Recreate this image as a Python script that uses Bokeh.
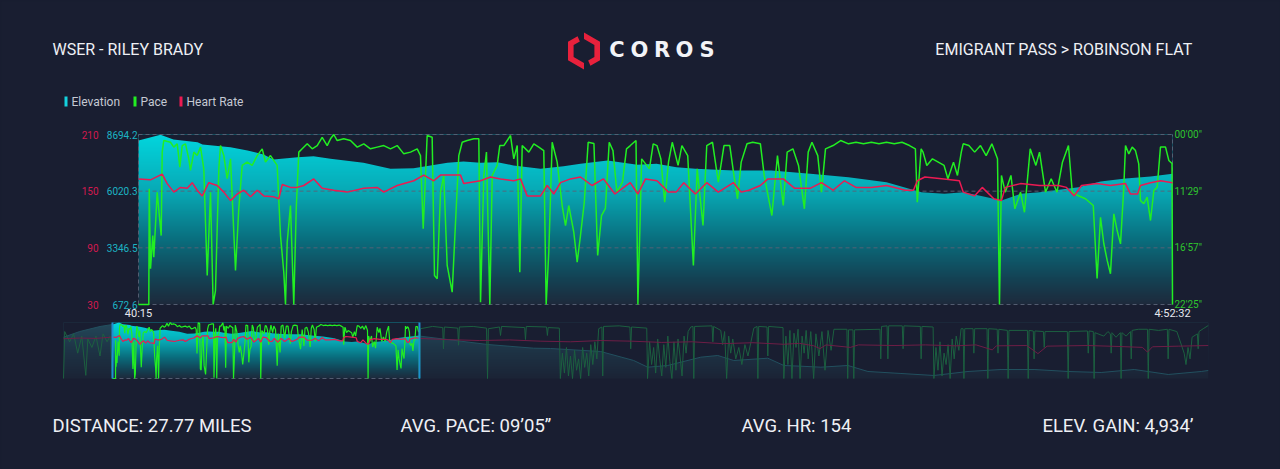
import math
import numpy as np
from bokeh.plotting import figure
from bokeh.models import Range1d
from bokeh.core.properties import value
from bokeh.embed import file_html
from bokeh.resources import INLINE

W, H = 1280, 469
PAD = 1                                    # border kept around the drawing frame
BG = "#191e31"
CYAN = "#14d2de"
GREEN = "#22ee22"
RED = "#ec1a52"
FONT = "Roboto"

# ---------------- Emigrant Pass > Robinson Flat (elapsed seconds) ----------------
T_START, T_END = 2415, 17552
ELEV_MIN, ELEV_MAX = 672.6, 8694.2
HR_MIN, HR_MAX = 30, 210
PACE_TOP, PACE_BOTTOM = 361, 1345          # seconds per mile

elev_t = [2415, 2737, 2927, 3279, 3352, 3762, 4011, 4245, 4391, 4743, 4977, 5226, 5709,
          6104, 6441, 6690, 6938, 7173, 7422, 7670, 7905, 8300, 8637, 8885, 9281, 9720,
          9998, 10291, 10569, 11125, 11681, 12252, 12809, 13365, 13877, 14214, 14492,
          14770, 15048, 15327, 15605, 16176, 16498, 16864, 17230, 17552]
elev_ft = [8411, 8680, 8458, 8331, 8222, 8095, 7939, 7751, 7515, 7623, 7670, 7548, 7359,
           7076, 7104, 7232, 7359, 7420, 7359, 7387, 7232, 7076, 7199, 7312, 7468, 7265,
           7312, 7151, 7076, 6996, 6996, 6840, 6680, 6444, 5972, 5896, 5972,
           5783, 5580, 5896, 5972, 6208, 6477, 6618, 6713, 6840]

hr_t = [2415, 2591, 2762, 2835, 2932, 3030, 3128, 3201, 3274, 3348, 3444, 3567, 3664, 3762,
        3860, 3957, 4055, 4153, 4249, 4396, 4469, 4519, 4640, 4738, 4835, 4981, 5104, 5274,
        5470, 5713, 5909, 6006, 6202, 6445, 6592, 6738, 6836, 7129, 7177, 7422, 7568, 7714,
        7909, 8007, 8105, 8300, 8398, 8495, 8593, 8739, 8885, 9054, 9222, 9389, 9614, 9726,
        9837, 10005, 10174, 10286, 10398, 10566, 10734, 10903, 11125, 11238, 11351, 11519,
        11630, 11854, 12022, 12246, 12413, 12583, 12750, 12918, 13144, 13365, 13643, 13760,
        13816, 13927, 14208, 14432, 14488, 14653, 14767, 14936, 15048, 15104, 15327, 15605,
        15883, 16000, 16113, 16220, 16448, 16644, 16864, 16937, 17040, 17083, 17230, 17376,
        17552]
hr_bpm = [163, 162, 168, 158, 149, 154, 153, 159, 151, 145, 159, 156, 149, 140,
          147, 151, 144, 151, 145, 144, 142, 157, 154, 154, 156, 163, 153, 151,
          149, 153, 154, 149, 156, 161, 167, 161, 167, 167, 158, 161, 165, 163,
          161, 163, 145, 145, 156, 147, 159, 163, 165, 156, 163, 147, 159, 147,
          163, 161, 149, 149, 159, 147, 159, 149, 159, 149, 151, 156,
          163, 163, 153, 153, 159, 151, 161, 154, 154, 156, 151, 151,
          161, 165, 163, 161, 149, 145, 154, 142, 140, 154, 158, 156,
          156, 154, 145, 156, 158, 156, 158, 147, 147, 156, 159, 161,
          159]

pace_t = [2415, 2566, 2572, 2591, 2624, 2639, 2689, 2747, 2762, 2785, 2883, 2932, 2982, 3020,
          3055, 3103, 3151, 3176, 3225, 3274, 3323, 3371, 3421, 3469, 3508, 3542, 3591, 3615,
          3664, 3713, 3762, 3835, 3883, 3933, 4006, 4079, 4153, 4226, 4274, 4347, 4445, 4494,
          4542, 4567, 4592, 4640, 4688, 4724, 4762, 4811, 4885, 4958, 5031, 5104, 5177, 5226,
          5274, 5324, 5420, 5518, 5617, 5713, 5811, 5909, 6006, 6104, 6202, 6299, 6397, 6495,
          6543, 6583, 6641, 6714, 6748, 6788, 6836, 6884, 6934, 7007, 7056, 7104, 7154, 7227,
          7324, 7397, 7422, 7470, 7509, 7558, 7593, 7666, 7704, 7763, 7861, 7909, 7959, 7997,
          8032, 8129, 8202, 8275, 8348, 8383, 8421, 8471, 8544, 8617, 8666, 8714, 8787, 8837,
          8885, 8941, 8998, 9082, 9137, 9193, 9250, 9306, 9361, 9418, 9500, 9559, 9615, 9698,
          9726, 9781, 9894, 9950, 10005, 10062, 10118, 10174, 10229, 10314, 10370, 10455,
          10538, 10594, 10679, 10734, 10818, 10903, 10986, 11071, 11125, 11184, 11238, 11323,
          11406, 11519, 11575, 11687, 11769, 11854, 11911, 11995, 12077, 12163, 12219, 12274,
          12359, 12413, 12472, 12583, 12694, 12809, 12919, 13028, 13144, 13255, 13365, 13479,
          13592, 13702, 13788, 13816, 13872, 13900, 13955, 14038, 14208, 14264, 14346, 14404,
          14460, 14488, 14571, 14656, 14741, 14824, 14908, 14990, 15019, 15048, 15104, 15187,
          15244, 15327, 15385, 15469, 15552, 15605, 15693, 15776, 15861, 15941, 16029, 16085,
          16168, 16278, 16392, 16448, 16498, 16546, 16596, 16644, 16693, 16742, 16791, 16839,
          16864, 16912, 16962, 17010, 17058, 17083, 17132, 17181, 17230, 17279, 17328, 17376,
          17450, 17498, 17545, 17552]
pace_s = [1345, 1345, 675, 1138, 946, 1071, 695, 946, 463, 396, 406, 434, 415, 550,
          425, 415, 502, 569, 463, 483, 434, 560, 1177, 695, 1345, 1264, 560, 425,
          483, 617, 502, 1148, 791, 540, 521, 540, 483, 444, 521, 483, 540, 946,
          1158, 1345, 984, 772, 1345, 791, 463, 444, 415, 444, 425, 377, 425, 386,
          361, 396, 386, 396, 434, 415, 444, 434, 425, 444, 425, 473, 463, 444,
          483, 907, 367, 377, 1177, 1196, 695, 598, 1119, 1274, 869, 483, 406, 396,
          386, 386, 1332, 598, 463, 1345, 598, 540, 425, 425, 367, 502, 425, 1158,
          425, 463, 415, 434, 454, 1345, 1042, 406, 521, 772, 888, 772, 926, 1100,
          946, 753, 406, 413, 1061, 830, 789, 406, 454, 695, 637, 444, 425, 396,
          1345, 502, 560, 415, 425, 502, 753, 521, 406, 540, 425, 483,
          1119, 560, 888, 425, 406, 637, 425, 425, 579, 733, 521, 415,
          406, 415, 598, 830, 483, 772, 463, 444, 540, 791, 463, 406,
          483, 695, 444, 425, 396, 415, 406, 415, 406, 415, 406, 415,
          406, 425, 444, 753, 444, 463, 540, 502, 540, 617, 521, 598,
          463, 415, 425, 463, 425, 483, 415, 502, 1345, 598, 695, 598,
          791, 695, 811, 444, 540, 463, 695, 617, 695, 521, 425, 695,
          714, 733, 772, 1194, 840, 992, 1090, 1167, 820, 917, 994, 666,
          425, 473, 434, 454, 531, 743, 762, 724, 859, 685, 666, 434,
          434, 511, 529, 1345]

# ---------------- whole-race overview, outside the window above ----------------
RACE_END = 56460
pre_elev_t = [0, 800, 1800, 2415]
pre_elev_ft = [6589, 7400, 8120, 8411]
post_elev_t = [17552, 17602, 20909, 23180, 24019, 26487, 28116, 28806, 29794, 31423, 32262,
               33052, 34730, 35520, 36359, 37346, 38679, 39666, 41295, 42924, 44602, 46231,
               47860, 49538, 51167, 52796, 54474, 56103, 56448]
post_elev_ft = [6840, 6732, 5543, 5013, 4970, 4540, 3251, 2292, 2535, 3724, 3968,
                3251, 3581, 2535, 2435, 2292, 2535, 1676, 1389, 1103, 1676, 1962,
                1962, 1676, 1532, 1962, 1246, 1676, 1820]

pre_hr_t = [0, 800, 1600, 2415]
pre_hr_bpm = [158, 160, 159, 163]
post_hr_t = [17552, 19000, 20500, 22000, 23500, 25000, 26500, 28000, 29500, 31000, 32500,
             34000, 35500, 36300, 37000, 37300, 37600, 38800, 39200, 41000, 42500, 44000,
             45000, 45800, 46000, 47500, 48050, 48500, 50500, 52000, 53200, 53450, 53700,
             55000, 56448]
post_hr_bpm = [159, 155, 152, 154, 150, 148, 152, 150, 146, 148, 142,
               145, 140, 143, 135, 126, 138, 130, 138, 136, 138, 135,
               138, 122, 135, 136, 110, 134, 136, 133, 130, 115, 132,
               134, 136]

pre_pace_t = [0, 60, 300, 500, 700, 900, 1100, 1200, 1400, 1600, 1800, 1950, 2150, 2300, 2415]
pre_pace_s = [1345, 520, 700, 560, 900, 600, 1290, 650, 800, 600, 950, 560, 700, 600, 1345]
post_pace_t = [17560, 17600, 18200, 18700, 18736, 18780, 19440, 19480, 19520, 20200, 20860,
               20909, 20950, 21500, 21550, 21600, 22740, 22780, 22820, 23820, 23860, 23900,
               24450, 24500, 24600, 24700, 24800, 24900, 25000, 25100, 25200, 25300, 25400,
               25500, 25600, 25700, 25800, 25900, 26000, 26100, 26200, 26300, 26390, 26550,
               26590, 26630, 27400, 27930, 27970, 28010, 28760, 28800, 28900, 29000, 29100,
               29200, 29300, 29400, 29500, 29600, 29700, 29800, 29900, 30000, 30100, 30200,
               30300, 30400, 30500, 30600, 30700, 30800, 30930, 31040, 31080, 31120, 31980,
               32020, 32060, 32410, 32500, 32600, 32700, 32800, 32900, 33000, 33150, 33300,
               33450, 33600, 33750, 33900, 34040, 34200, 34240, 34280, 34690, 34730, 34770,
               35480, 35520, 35620, 35720, 35820, 35920, 36020, 36120, 36220, 36320, 36420,
               36520, 36620, 36720, 36850, 36990, 37100, 37250, 37400, 37550, 37700, 37850,
               37990, 38630, 38670, 38710, 38930, 38970, 39010, 40260, 40300, 40340, 40610,
               40650, 40690, 41360, 41400, 41440, 42250, 42290, 42330, 42880, 42920, 43020,
               43120, 43220, 43320, 43420, 43520, 43620, 43720, 43820, 43920, 44020, 44150,
               44260, 44360, 44400, 44440, 44850, 44890, 44930, 45540, 45580, 45620, 46040,
               46080, 46120, 46540, 46580, 46620, 47530, 47570, 47610, 47820, 47860, 47900,
               48320, 48360, 48400, 49500, 49540, 49580, 50490, 50530, 50570, 50780, 50820,
               50860, 51300, 51500, 51620, 51660, 51700, 51900, 52110, 52150, 52190, 52400,
               52610, 52650, 52690, 53000, 53450, 53490, 53530, 54000, 54430, 54470, 54510,
               54900, 55260, 55350, 55450, 55550, 55650, 55910, 55950, 55990, 56200, 56448]
post_pace_s = [1345, 470, 430, 450, 823, 440, 460, 760, 440, 430, 460,
               1345, 470, 440, 589, 430, 450, 660, 430, 440, 589, 450,
               460, 1345, 900, 1250, 800, 1300, 950, 1345, 850, 1200, 1000,
               1345, 800, 1150, 900, 1300, 750, 1100, 700, 1000, 470, 440,
               1300, 430, 420, 440, 823, 440, 460, 1345, 700, 1100, 800,
               1250, 650, 1000, 1300, 750, 1150, 600, 1050, 1345, 700, 1200,
               650, 950, 1300, 600, 900, 520, 440, 430, 1345, 430, 420,
               700, 430, 500, 750, 520, 1345, 600, 900, 650, 1000, 800,
               1100, 750, 950, 700, 460, 430, 1345, 430, 440, 950, 430,
               450, 1345, 600, 1100, 500, 1345, 550, 800, 480, 1345, 600,
               900, 500, 1000, 520, 1345, 560, 950, 520, 1200, 500, 850,
               480, 480, 1345, 490, 490, 1345, 490, 480, 1000, 430, 420,
               1000, 420, 420, 823, 420, 430, 999, 430, 440, 1345, 800,
               1200, 700, 1300, 900, 1100, 750, 1345, 650, 1000, 600, 850,
               470, 470, 1345, 470, 470, 900, 470, 470, 1345, 470, 480,
               900, 480, 500, 1345, 500, 500, 1345, 500, 510, 1000, 510,
               520, 800, 520, 520, 1345, 520, 510, 900, 510, 520, 1345,
               540, 600, 520, 560, 900, 540, 620, 540, 1345, 540, 600,
               520, 1000, 500, 480, 480, 1345, 480, 500, 480, 1000, 480,
               520, 900, 1100, 800, 1000, 620, 560, 823, 520, 470, 414]

# ---------------- text ----------------
athlete = "WSER - RILEY BRADY"
segment = "EMIGRANT PASS > ROBINSON FLAT"
brand = "COROS"
legend_labels = ["Elevation", "Pace", "Heart Rate"]
stats = ["DISTANCE: 27.77 MILES", "AVG. PACE: 09\u201905\u2019\u2019",
         "AVG. HR: 154", "ELEV. GAIN: 4,934\u2019"]
elev_ticks = [672.6, 3346.47, 6020.33, 8694.2]
elev_tick_labels = ["%.1f" % v for v in elev_ticks]
hr_ticks = [30, 90, 150, 210]
pace_ticks = [361, 689, 1017, 1345]
pace_tick_labels = ["00'00\"", "11'29\"", "16'57\"", "22'25\""]
time_ticks = [T_START, T_END]
time_tick_labels = ["40:15", "4:52:32"]

# ---------------- page geometry (pixels from the top-left corner) ----------------
MAIN_L, MAIN_R, MAIN_T, MAIN_B = 138, 1172, 134, 304
OV_L, OV_R, OV_T, OV_B = 63, 1208, 322, 378


def px_range(v_a, px_a, v_b, px_b, px_lo, px_hi):
    """Range whose ends sit at pixels px_lo / px_hi, mapping v_a->px_a and v_b->px_b."""
    k = (v_b - v_a) / (px_b - px_a)
    return Range1d(v_a + (px_lo - px_a) * k, v_a + (px_hi - px_a) * k)


def x_rng(v0, v1, l, r):
    return px_range(v0, l, v1, r, PAD, W - PAD)


def y_rng(v_bottom, v_top, t, b):
    # bokeh y ranges run from the frame bottom up to its top
    return px_range(v_bottom, b, v_top, t, H - PAD, PAD)


def gradient_image(stops, rows=240):
    """Single-column RGBA image; stops are (fraction from top, rgb)."""
    frac = np.linspace(1.0, 0.0, rows)          # row 0 is drawn at the bottom
    pos = [s[0] for s in stops]
    rgba = np.zeros((rows, 1, 4), dtype=np.uint8)
    for k in range(3):
        rgba[:, 0, k] = np.interp(frac, pos, [s[1][k] for s in stops])
    rgba[:, 0, 3] = 255
    return rgba.view(dtype=np.uint32).reshape((rows, 1))


BRIGHT = [(0.0, (2, 214, 222)), (0.33, (8, 170, 182)), (0.62, (10, 110, 126)),
          (0.85, (20, 66, 84)), (1.0, (30, 42, 60))]
DIM = [(0.0, (36, 72, 90)), (0.5, (30, 52, 70)), (1.0, (27, 36, 54))]

p = figure(width=W, height=H, x_range=Range1d(PAD, W - PAD), y_range=Range1d(H - PAD, PAD),
           output_backend="svg", toolbar_location=None, x_axis_location=None,
           y_axis_location=None, min_border=PAD, background_fill_color=BG,
           border_fill_color=BG, outline_line_color=None,
           styles={"background-color": BG})
p.grid.visible = False

p.extra_x_ranges = {
    "mx": x_rng(T_START, T_END, MAIN_L, MAIN_R),
    "ox": x_rng(0, RACE_END, OV_L, OV_R),
}
p.extra_y_ranges = {
    "me": y_rng(ELEV_MIN, ELEV_MAX, MAIN_T, MAIN_B),
    "mh": y_rng(HR_MIN, HR_MAX, MAIN_T, MAIN_B),
    "mp": y_rng(PACE_BOTTOM, PACE_TOP, MAIN_T, MAIN_B),
    "oe": y_rng(ELEV_MIN, ELEV_MAX, OV_T, OV_B),
    "oh": y_rng(HR_MIN, HR_MAX, OV_T, OV_B),
    "op": y_rng(PACE_BOTTOM, PACE_TOP, OV_T, OV_B),
}

# ================= main chart =================
M = dict(x_range_name="mx")
p.image_rgba(image=[gradient_image(BRIGHT)], x=T_START, y=ELEV_MIN,
             dw=T_END - T_START, dh=ELEV_MAX - ELEV_MIN, y_range_name="me", **M)
p.varea(x=elev_t, y1=elev_ft, y2=ELEV_MAX, fill_color=BG, y_range_name="me", **M)

GRID = dict(line_color="#5a6377", line_dash="4 3", line_width=1, line_alpha=0.9)
p.segment(x0=T_START, x1=T_END, y0=elev_ticks, y1=elev_ticks, y_range_name="me", **M, **GRID)
p.segment(x0=time_ticks, x1=time_ticks, y0=ELEV_MIN, y1=ELEV_MAX, y_range_name="me",
          **M, **GRID)

p.line(pace_t, pace_s, y_range_name="mp", line_color=GREEN, line_width=1.5, **M)
p.line(hr_t, hr_bpm, y_range_name="mh", line_color=RED, line_width=1.5, **M)

TICK = dict(text_font=value(FONT), text_font_size="10px", text_baseline="middle")
p.text(x=[T_START] * 4, y=hr_ticks, text=[str(v) for v in hr_ticks], x_offset=-40,
       text_align="right", text_color="#d2194f", y_range_name="mh", **M, **TICK)
p.text(x=[T_START] * 4, y=elev_ticks, text=elev_tick_labels, x_offset=-1,
       text_align="right", text_color="#1cb4c4", y_range_name="me", **M, **TICK)
p.text(x=[T_END] * 4, y=pace_ticks, text=pace_tick_labels, x_offset=2,
       text_align="left", text_color="#2ec52e", y_range_name="mp", **M, **TICK)
p.text(x=time_ticks, y=[ELEV_MIN] * 2, text=time_tick_labels, y_offset=9,
       text_align="center", text_baseline="middle", text_color="#e6e8ee",
       text_font=value(FONT), text_font_size="11px", y_range_name="me", **M)

# ================= overview strip =================
O = dict(x_range_name="ox")
all_elev_t = pre_elev_t + elev_t[1:] + post_elev_t[1:]
all_elev_ft = pre_elev_ft + elev_ft[1:] + post_elev_ft[1:]
p.image_rgba(image=[gradient_image(DIM)], x=0, y=ELEV_MIN, dw=all_elev_t[-1],
             dh=ELEV_MAX - ELEV_MIN, y_range_name="oe", **O)
p.image_rgba(image=[gradient_image(BRIGHT)], x=T_START, y=ELEV_MIN, dw=T_END - T_START,
             dh=ELEV_MAX - ELEV_MIN, y_range_name="oe", **O)
p.varea(x=all_elev_t, y1=all_elev_ft, y2=ELEV_MAX, fill_color=BG, y_range_name="oe", **O)
p.segment(x0=T_START, x1=T_END, y0=ELEV_MIN, y1=ELEV_MIN, y_range_name="oe", **O, **GRID)
for xs, ys in ((pre_elev_t, pre_elev_ft), (post_elev_t, post_elev_ft)):
    p.line(xs, ys, line_color="#22505f", line_width=1, y_range_name="oe", **O)
for xs, ys in ((pre_pace_t, pre_pace_s), (post_pace_t, post_pace_s)):
    p.line(xs, ys, line_color="#1c6040", line_width=1, y_range_name="op", **O)
for xs, ys in ((pre_hr_t, pre_hr_bpm), (post_hr_t, post_hr_bpm)):
    p.line(xs, ys, line_color="#6e1e46", line_width=1, y_range_name="oh", **O)
p.line(pace_t, pace_s, line_color=GREEN, line_width=1.2, y_range_name="op", **O)
p.line(hr_t, hr_bpm, line_color=RED, line_width=1.2, y_range_name="oh", **O)
p.segment(x0=time_ticks, x1=time_ticks, y0=ELEV_MIN, y1=ELEV_MAX, line_color="#1e8fd0",
          line_width=2, y_range_name="oe", **O)

# ================= header, legend, footer (page pixels) =================
HEAD = dict(text_font=value(FONT), text_font_size="16px", text_color="#eef0f5",
            text_baseline="middle")
p.text(x=[52], y=[49], text=[athlete], text_align="left", **HEAD)
p.text(x=[1192], y=[49], text=[segment], text_align="right", **HEAD)
p.text(x=[616.5, 639, 661.5, 684, 706.5], y=[49.5] * 5, text=list(brand),
       text_align="center", text_baseline="middle", text_font=value("DejaVu Sans"),
       text_font_style="bold", text_font_size="21px", text_color="#f2f3f7")


def hex_piece(cx, cy, r_out, r_in, s0, s1):
    def pt(r, s):
        k = int(math.floor(s)) % 6
        f = s - math.floor(s)
        a0 = math.radians(90 - 60 * k)
        a1 = math.radians(90 - 60 * (k + 1))
        x0, y0 = cx + r * math.cos(a0), cy - r * math.sin(a0)
        x1, y1 = cx + r * math.cos(a1), cy - r * math.sin(a1)
        return x0 + (x1 - x0) * f, y0 + (y1 - y0) * f
    ss = [s0] + [float(k) for k in range(int(math.ceil(s0)), int(math.floor(s1)) + 1)
                 if s0 < k < s1] + [s1]
    pts = [pt(r_out, s) for s in ss] + [pt(r_in, s) for s in reversed(ss)]
    return [q[0] for q in pts], [q[1] for q in pts]


pieces = [hex_piece(583.5, 50.5, 18.5, 12, a, b) for a, b in ((0.0, 2.6), (3.0, 5.6))]
p.patches(xs=[q[0] for q in pieces], ys=[q[1] for q in pieces], fill_color="#e8213c",
          line_color=None)

leg_x = [64, 133, 179]
p.rect(x=[v + 1.5 for v in leg_x], y=[101] * 3, width=3, height=10,
       fill_color=[CYAN, GREEN, RED], line_color=None)
p.text(x=[v + 7 for v in leg_x], y=[101] * 3, text=legend_labels, text_align="left",
       text_baseline="middle", text_font=value(FONT), text_font_size="12px",
       text_color="#c5c9d3")

FOOT = dict(text_font=value(FONT), text_font_size="18.5px", text_color="#eef0f5",
            text_baseline="middle")
p.text(x=[52, 400, 741], y=[425.5] * 3, text=stats[:3], text_align="left", **FOOT)
p.text(x=[1193], y=[425.5], text=stats[3:], text_align="right", **FOOT)

open("out.html", "w").write(file_html(p, INLINE))
